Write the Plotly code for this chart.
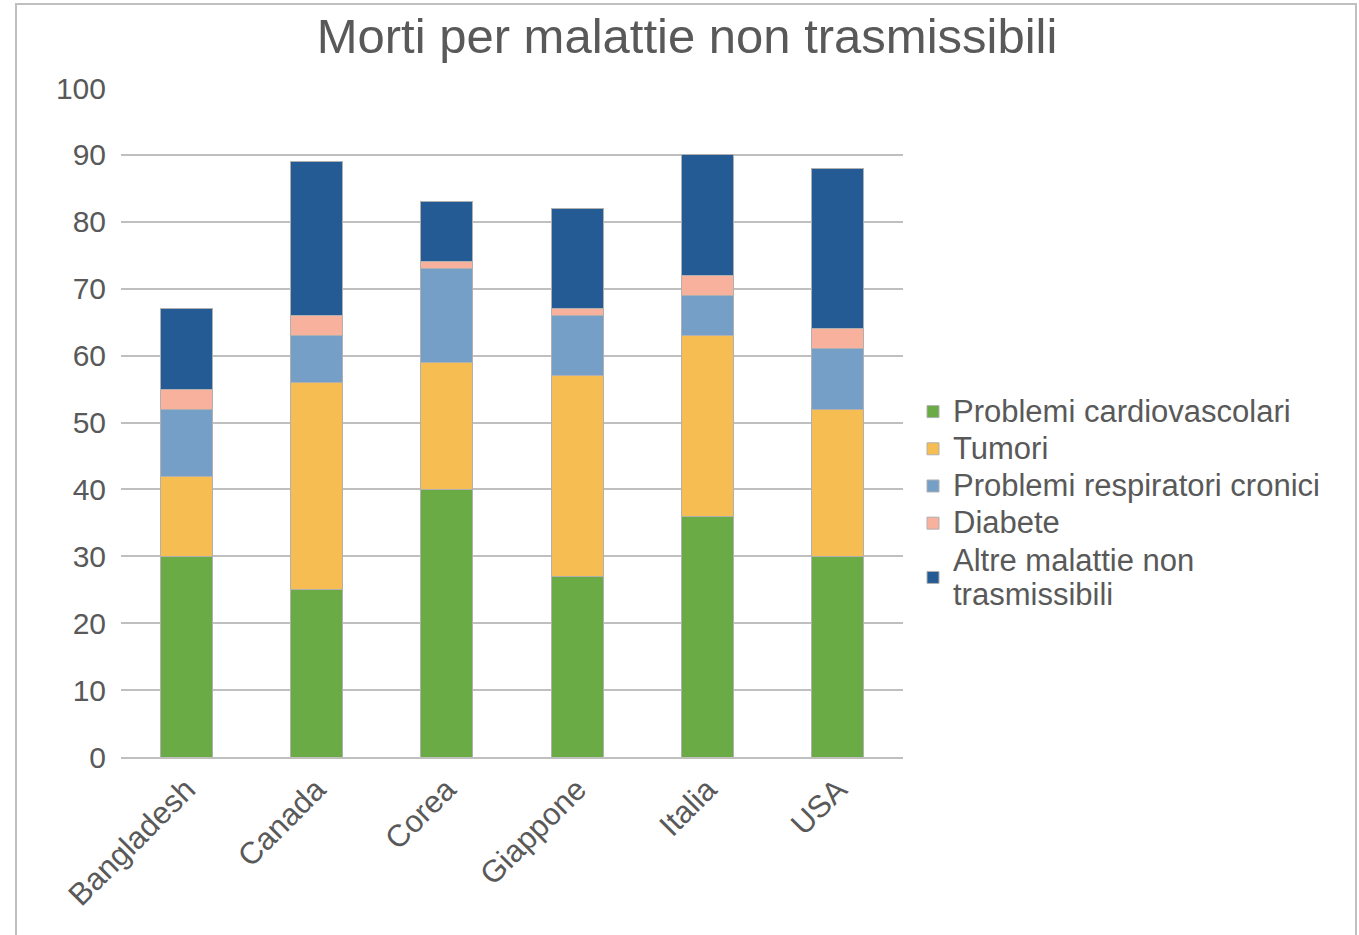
import plotly.graph_objects as go

countries = ["Bangladesh", "Canada", "Corea", "Giappone", "Italia", "USA"]
series_names = ["Problemi cardiovascolari", "Tumori", "Problemi respiratori cronici",
                "Diabete", "Altre malattie non", "trasmissibili"]
cardio = [30, 25, 40, 27, 36, 30]
tumori = [12, 31, 19, 30, 27, 22]
respir = [10, 7, 14, 9, 6, 9]
diabete = [3, 3, 1, 1, 3, 3]
altre = [12, 23, 9, 15, 18, 24]
colors = ["#6AAB45", "#F6BE52", "#769FC8", "#F8B19C", "#245B95"]


def big(t):
    return '<span style="font-size:31px">' + t + '</span>'


labels = [big(series_names[0]), big(series_names[1]), big(series_names[2]),
          big(series_names[3]), big(series_names[4]) + "<br>" + big(series_names[5])]

fig = go.Figure()
for name, vals, col in zip(labels, [cardio, tumori, respir, diabete, altre], colors):
    fig.add_trace(go.Bar(x=countries, y=vals, name=name,
                         marker=dict(color=col, line=dict(color="#b0b0b0", width=1))))

W, H = 1359, 935
L, R, T, B = 121, 903, 88, 757
pw, ph = R - L, B - T


def px(x):
    return (x - L) / pw


def py(y):
    return (B - y) / ph


fig.update_layout(
    width=W, height=H,
    barmode="stack", bargap=0.6,
    margin=dict(l=L, r=W - R, t=T, b=H - B, autoexpand=False),
    paper_bgcolor="white", plot_bgcolor="white",
    font=dict(family="Liberation Sans, Arial, sans-serif", color="#595959", size=30),
    title=dict(text="Morti per malattie non trasmissibili", x=687 / W, xanchor="center",
               y=1 - 36 / H, yanchor="middle",
               font=dict(size=49, color="#595959")),
    legend=dict(x=px(913), xanchor="left", y=py(388), yanchor="top",
                font=dict(size=26.3, color="#595959"), traceorder="normal",
                itemwidth=30, tracegroupgap=0, bgcolor="rgba(0,0,0,0)"),
    xaxis=dict(tickangle=-45, showgrid=False, showline=True, linecolor="#bfbfbf",
               linewidth=2, tickfont=dict(size=31, color="#595959"), ticks=""),
    yaxis=dict(range=[0, 100], dtick=10, showgrid=True, gridcolor="#bfbfbf", gridwidth=2,
               zeroline=False, tickfont=dict(size=30, color="#595959"),
               ticklabelstandoff=14),
    shapes=[dict(type="rect", xref="paper", yref="paper",
                 x0=px(16), x1=px(1356), y0=py(4), y1=py(1000),
                 line=dict(color="#c0c0c0", width=2), fillcolor="rgba(0,0,0,0)", layer="below")],
)

fig.write_html("out.html", config={"displayModeBar": False},
               post_script="document.body.style.margin='0';")
